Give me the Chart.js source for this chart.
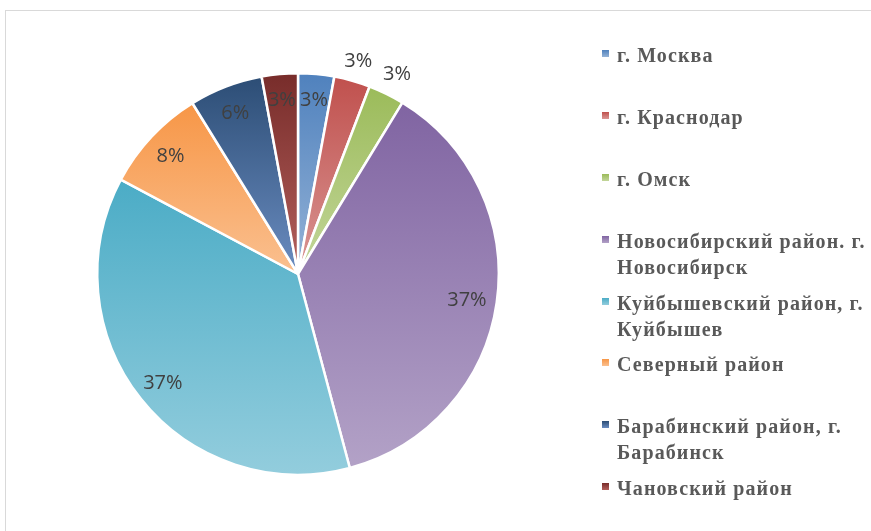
<!DOCTYPE html>
<html lang="ru">
<head>
<meta charset="utf-8">
<title>Распределение по районам</title>
<script src="https://cdn.jsdelivr.net/npm/chart.js@4/dist/chart.umd.min.js"></script>
<style>
    html, body { margin: 0; padding: 0; background: #ffffff; overflow: hidden; }
    #wrap { position: relative; width: 871px; height: 531px; }
    #frame {
        position: absolute; left: 5px; top: 10px; width: 900px; height: 600px;
        border: 1.5px solid #d9d9d9; box-sizing: border-box;
    }
    #chartPie { position: absolute; left: 0; top: 0; }
    #legend {
        position: absolute; left: 600px; top: 42px; margin: 0; padding: 0; list-style: none;
        font-family: "Liberation Serif", "Times New Roman", serif; font-weight: bold;
        font-size: 20px; line-height: 26px; letter-spacing: 1.1px; color: #595959;
    }
    #legend li { position: relative; height: 61.9px; }
    #legend .box { position: absolute; left: 2px; top: 8px; width: 7px; height: 7px; }
    #legend .txt { position: absolute; left: 17px; top: 0; white-space: nowrap; }
</style>
</head>
<body>
<div id="wrap">
    <div id="frame"></div>
    <canvas id="chartPie" width="871" height="531"></canvas>
    <ul id="legend"></ul>
</div>
<script>
// === Datos ===
const categories = [
    "г. Москва",
    "г. Краснодар",
    "г. Омск",
    "Новосибирский район. г. Новосибирск",
    "Куйбышевский район, г. Куйбышев",
    "Северный район",
    "Барабинский район, г. Барабинск",
    "Чановский район"
];
const values = [2.9, 2.9, 2.9, 37.1, 36.9, 8.4, 5.9, 2.9];

// colores: arriba (oscuro) -> abajo (claro), degradado por sector
const topColors = ["#4f81bd", "#c0504d", "#9bbb59", "#8064a2", "#4bacc6", "#f79646", "#2c4d75", "#772c2a"];
const bottomColors = ["#95b3d7", "#d99694", "#c3d69b", "#b3a2c7", "#93cddd", "#fac090", "#6a8cc0", "#b4605c"];

// radio relativo de cada etiqueta (dentro / fuera del sector)
const labelRadius = [0.88, 1.11, 1.12, 0.85, 0.86, 0.87, 0.87, 0.88];

const total = values.reduce((a, b) => a + b, 0);

// === Degradado vertical para cada sector ===
function sliceGradient(context) {
    const chart = context.chart;
    const i = context.dataIndex;
    const area = chart.chartArea;
    if (!area || i === undefined) return topColors[i] || "#888";

    const cx = (area.left + area.right) / 2;
    const cy = (area.top + area.bottom) / 2;
    const r = Math.min(area.right - area.left, area.bottom - area.top) / 2;

    let acc = 0;
    for (let k = 0; k < i; k++) acc += values[k];
    const a0 = acc / total * Math.PI * 2;
    const a1 = (acc + values[i]) / total * Math.PI * 2;

    // angulos medidos desde arriba, sentido horario
    const ys = [cy, cy - r * Math.cos(a0), cy - r * Math.cos(a1)];
    if (a0 <= 0 && a1 >= 0) ys.push(cy - r);
    if (a0 <= Math.PI && a1 >= Math.PI) ys.push(cy + r);
    const y0 = Math.min(...ys);
    const y1 = Math.max(...ys);

    const grad = chart.ctx.createLinearGradient(0, y0, 0, y1);
    grad.addColorStop(0, topColors[i]);
    grad.addColorStop(1, bottomColors[i]);
    return grad;
}

// === Etiquetas de porcentaje ===
const percentLabels = {
    id: "percentLabels",
    afterDatasetsDraw(chart) {
        const ctx = chart.ctx;
        const meta = chart.getDatasetMeta(0);
        ctx.save();
        ctx.font = "20px 'Open Sans', sans-serif";
        ctx.fillStyle = "#404040";
        ctx.textAlign = "center";
        ctx.textBaseline = "middle";
        meta.data.forEach(function (arc, i) {
            const p = arc.getProps(["x", "y", "startAngle", "endAngle", "outerRadius"], true);
            const mid = (p.startAngle + p.endAngle) / 2;
            const r = p.outerRadius * labelRadius[i];
            const txt = Math.round(values[i] / total * 100) + "%";
            ctx.fillText(txt, p.x + Math.cos(mid) * r, p.y + Math.sin(mid) * r + 2);
        });
        ctx.restore();
    }
};

// === Grafico ===
new Chart(document.getElementById("chartPie").getContext("2d"), {
    type: "pie",
    data: {
        labels: categories,
        datasets: [{
            data: values,
            backgroundColor: sliceGradient,
            borderColor: "#ffffff",
            borderWidth: 2.5
        }]
    },
    options: {
        responsive: false,
        animation: false,
        events: [],
        layout: { padding: { left: 96, top: 71, right: 371, bottom: 54 } },
        plugins: {
            legend: { display: false },
            tooltip: { enabled: false }
        }
    },
    plugins: [percentLabels]
});

// === Leyenda HTML ===
const legendEl = document.getElementById("legend");
categories.forEach(function (name, i) {
    const li = document.createElement("li");
    const box = document.createElement("span");
    box.className = "box";
    box.style.background = "linear-gradient(" + topColors[i] + ", " + bottomColors[i] + ")";
    const txt = document.createElement("span");
    txt.className = "txt";
    // salto de linea despues de "район, г." como en el original
    name.split(/(?<=район[.,] г\.) /).forEach(function (part, k) {
        if (k > 0) txt.appendChild(document.createElement("br"));
        txt.appendChild(document.createTextNode(part));
    });
    li.appendChild(box);
    li.appendChild(txt);
    legendEl.appendChild(li);
});
</script>
</body>
</html>
